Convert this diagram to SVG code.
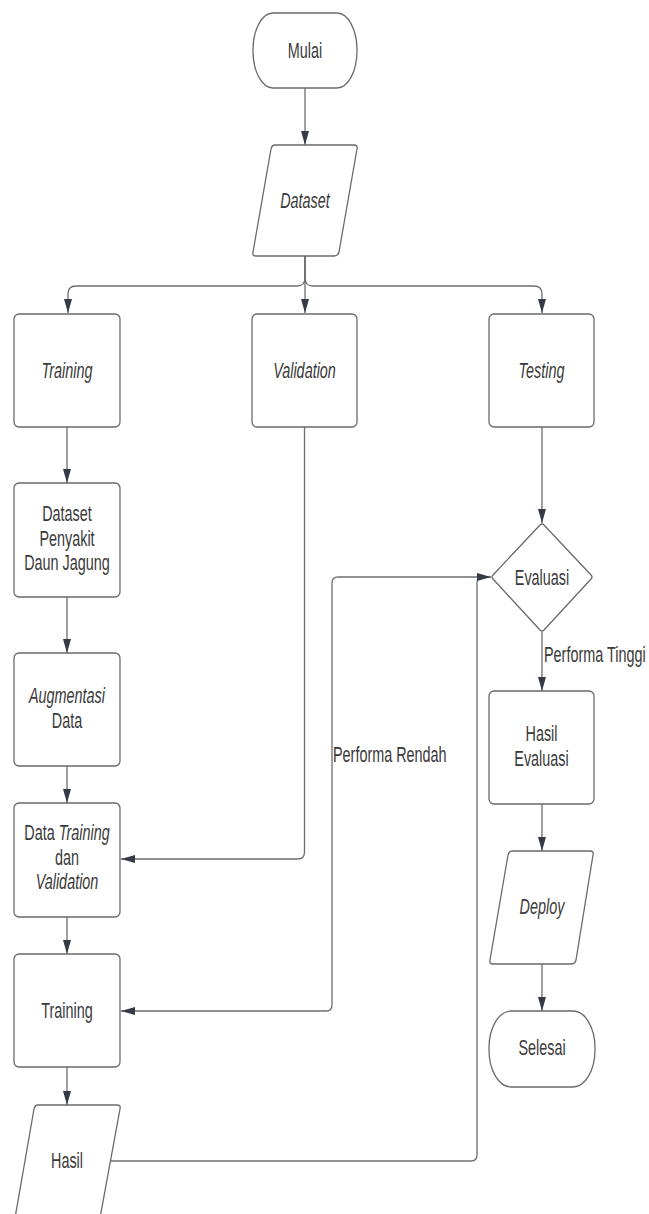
<svg xmlns="http://www.w3.org/2000/svg" width="649" height="1214" viewBox="0 0 649 1214">
<style>
.shape{fill:#ffffff;stroke:#6a6a6a;stroke-width:1.3;stroke-linejoin:round}
.conn{fill:none;stroke:#6e6e6e;stroke-width:1.3}
.t{font-family:"Liberation Sans",Arial,sans-serif;font-size:22px;fill:#3a3a3a}
.c{text-anchor:middle}
.i{font-style:italic}
</style>
<defs>
<marker id="arr" markerUnits="userSpaceOnUse" markerWidth="14" markerHeight="10" refX="14" refY="5" orient="auto">
<path d="M0,1 L14,5 L0,9 z" fill="#343a46"/>
</marker>
</defs>
<rect width="649" height="1214" fill="#ffffff"/>
<g id="connectors">
<path class="conn" d="M305,88 V145" marker-end="url(#arr)"/>
<path class="conn" d="M305,256 V278 Q305,286 297,286 H76 Q68,286 68,294 V313" marker-end="url(#arr)"/>
<path class="conn" d="M305,256 V313" marker-end="url(#arr)"/>
<path class="conn" d="M305,256 V278 Q305,286 313,286 H534 Q542,286 542,294 V313" marker-end="url(#arr)"/>
<path class="conn" d="M67,427 V483" marker-end="url(#arr)"/>
<path class="conn" d="M67,597 V653" marker-end="url(#arr)"/>
<path class="conn" d="M67,766 V803" marker-end="url(#arr)"/>
<path class="conn" d="M304.5,427 V852 Q304.5,859 297.5,859 H121" marker-end="url(#arr)"/>
<path class="conn" d="M67,917 V954" marker-end="url(#arr)"/>
<path class="conn" d="M67,1067 V1105" marker-end="url(#arr)"/>
<path class="conn" d="M110,1161 H471 Q477,1161 477,1155 V583 Q477,577 483,577 H491" marker-end="url(#arr)"/>
<path class="conn" d="M477,577 H338 Q332,577 332,583 V1005 Q332,1011 326,1011 H121" marker-end="url(#arr)"/>
<path class="conn" d="M542,427 V523" marker-end="url(#arr)"/>
<path class="conn" d="M542,632 V691" marker-end="url(#arr)"/>
<path class="conn" d="M542,804 V851" marker-end="url(#arr)"/>
<path class="conn" d="M542,964 V1011" marker-end="url(#arr)"/>
<text class="t" transform="translate(333,762) scale(0.655,1)">Performa Rendah</text>
<text class="t" transform="translate(544,662) scale(0.655,1)">Performa Tinggi</text>
</g>
<g id="mulai">
<rect class="shape" x="253" y="13" width="104" height="75" rx="20" ry="37"/>
<text class="t c" transform="translate(305,58) scale(0.655,1)">Mulai</text>
</g>
<g id="dataset">
<path class="shape" d="M275,145 H354 Q358,145 357,149 L339,252 Q338,256 334,256 H256 Q252,256 253,252 L271,149 Q272,145 275,145 Z"/>
<text class="t c i" transform="translate(305,208) scale(0.655,1)">Dataset</text>
</g>
<g id="training">
<rect class="shape" x="14" y="314" width="106" height="113" rx="5"/>
<text class="t c i" transform="translate(67,378) scale(0.655,1)">Training</text>
</g>
<g id="validation">
<rect class="shape" x="252" y="314" width="105" height="113" rx="5"/>
<text class="t c i" transform="translate(304.5,378) scale(0.655,1)">Validation</text>
</g>
<g id="testing">
<rect class="shape" x="489" y="314" width="105" height="113" rx="5"/>
<text class="t c i" transform="translate(541.5,378) scale(0.655,1)">Testing</text>
</g>
<g id="dataset-penyakit">
<rect class="shape" x="14" y="483" width="106" height="114" rx="5"/>
<text class="t c" transform="translate(67,521) scale(0.655,1)">Dataset</text>
<text class="t c" transform="translate(67,546) scale(0.655,1)">Penyakit</text>
<text class="t c" transform="translate(67,570) scale(0.655,1)">Daun Jagung</text>
</g>
<g id="augmentasi">
<rect class="shape" x="14" y="653" width="106" height="113" rx="5"/>
<text class="t c i" transform="translate(67,703) scale(0.655,1)">Augmentasi</text>
<text class="t c" transform="translate(67,728) scale(0.655,1)">Data</text>
</g>
<g id="data-training">
<rect class="shape" x="14" y="803" width="106" height="114" rx="5"/>
<text class="t c" transform="translate(67,840) scale(0.655,1)">Data <tspan class="i">Training</tspan></text>
<text class="t c" transform="translate(67,865) scale(0.655,1)">dan</text>
<text class="t c i" transform="translate(67,889) scale(0.655,1)">Validation</text>
</g>
<g id="training2">
<rect class="shape" x="14" y="954" width="106" height="113" rx="5"/>
<text class="t c" transform="translate(67,1018) scale(0.655,1)">Training</text>
</g>
<g id="hasil">
<path class="shape" d="M38,1105 H117 Q121,1105 120,1109 L100,1218 H15 L34,1109 Q35,1105 38,1105 Z"/>
<text class="t c" transform="translate(67,1168) scale(0.655,1)">Hasil</text>
</g>
<g id="evaluasi">
<path class="shape" d="M540,525 Q542,523 544,525 L591,575 Q593,577 591,579 L544,630 Q542,632 540,630 L493,579 Q491,577 493,575 Z"/>
<text class="t c" transform="translate(542,585) scale(0.655,1)">Evaluasi</text>
</g>
<g id="hasil-evaluasi">
<rect class="shape" x="489" y="691" width="105" height="113" rx="5"/>
<text class="t c" transform="translate(541.5,741) scale(0.655,1)">Hasil</text>
<text class="t c" transform="translate(541.5,766) scale(0.655,1)">Evaluasi</text>
</g>
<g id="deploy">
<path class="shape" d="M512,851 H590 Q594,851 593,855 L576,960 Q575,964 571,964 H493 Q489,964 490,960 L508,855 Q509,851 512,851 Z"/>
<text class="t c i" transform="translate(542,914) scale(0.655,1)">Deploy</text>
</g>
<g id="selesai">
<rect class="shape" x="489" y="1011" width="106" height="76" rx="22" ry="37"/>
<text class="t c" transform="translate(542,1055) scale(0.655,1)">Selesai</text>
</g>
</svg>
